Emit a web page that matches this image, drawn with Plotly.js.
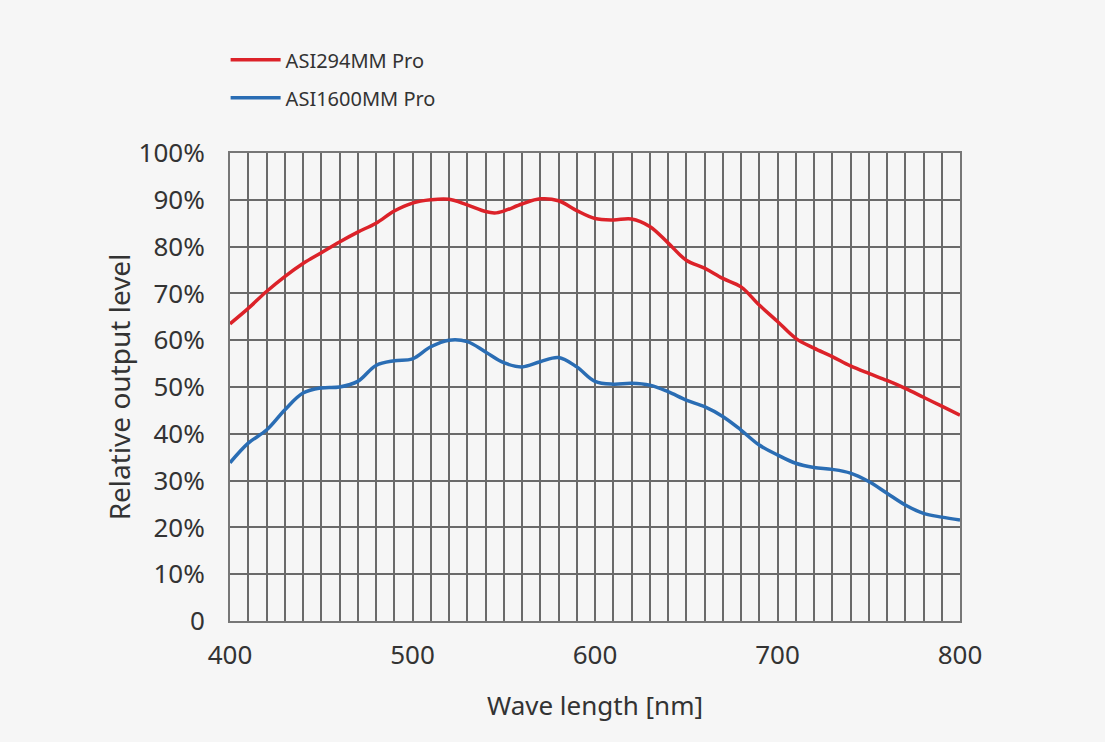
<!DOCTYPE html>
<html>
<head>
<meta charset="utf-8">
<script src="https://cdn.plot.ly/plotly-3.0.1.min.js"></script>
<style>
html,body{margin:0;padding:0;background:#f6f6f6;}
#chart{width:1105px;height:742px;}
</style>
</head>
<body>
<div id="chart"></div>
<script>
const wavelength = [400,410,420,430,440,450,460,470,480,490,500,510,520,530,540,545,550,560,570,580,590,600,610,620,630,640,650,660,670,680,690,700,710,720,730,740,750,760,770,780,790,800];
const asi294 = [63.5,66.8,70.4,73.6,76.4,78.7,81.0,83.1,85.0,87.6,89.3,90.0,90.1,88.9,87.5,87.2,87.6,89.1,90.2,89.8,87.7,86.0,85.7,85.9,84.3,80.8,77.1,75.4,73.2,71.4,67.5,64.0,60.4,58.3,56.5,54.5,52.9,51.4,49.7,47.8,45.9,44.0];
const wavelength2 = [400,410,420,430,440,450,460,470,480,490,500,510,520,530,540,550,560,570,580,590,600,610,620,630,640,650,660,670,680,690,700,710,720,730,740,750,760,770,780,790,800];
const asi1600 = [33.8,38.0,40.8,45.1,48.7,49.8,50.0,51.2,54.6,55.6,56.0,58.6,60.0,59.7,57.5,55.2,54.3,55.4,56.3,54.3,51.2,50.6,50.8,50.4,49.0,47.2,45.8,43.7,40.8,37.6,35.5,33.7,32.8,32.4,31.6,29.8,27.3,24.8,23.0,22.2,21.6];
const seriesNames = ['ASI294MM Pro','ASI1600MM Pro'];
const yTicks = [0,10,20,30,40,50,60,70,80,90,100];
const yTickText = ['0','10%','20%','30%','40%','50%','60%','70%','80%','90%','100%'];
const xTicks = [400,500,600,700,800];

const font = 'Noto Sans, Open Sans, sans-serif';
const gridColor = '#6a6a6a';

const traces = [
  {x: wavelength, y: asi294, name: seriesNames[0], mode: 'lines', legendgroup: 'g0',
   line: {color: '#dc2229', width: 3.5, shape: 'spline', smoothing: 1}},
  {x: wavelength2, y: asi1600, name: seriesNames[1], mode: 'lines', legendgroup: 'g1',
   line: {color: '#2a6db4', width: 3.5, shape: 'spline', smoothing: 1}}
];

const layout = {
  width: 1105, height: 742,
  paper_bgcolor: '#f6f6f6', plot_bgcolor: '#f6f6f6',
  margin: {l: 230, r: 145, t: 153, b: 121},
  font: {family: font, color: '#333'},
  showlegend: true,
  legend: {x: -0.006, y: 1.241, xanchor: 'left', yanchor: 'top',
           bgcolor: 'rgba(0,0,0,0)', font: {size: 20, color: '#333', family: font},
           tracegroupgap: 9, itemwidth: 50},
  xaxis: {range: [400, 800], tickvals: xTicks, ticks: '', showgrid: true,
          gridcolor: gridColor, gridwidth: 2,
          minor: {dtick: 10, tick0: 400, showgrid: true, gridcolor: gridColor, gridwidth: 2},
          showline: true, linecolor: '#777', linewidth: 2, mirror: true,
          zeroline: false, tickfont: {size: 26, color: '#333'}, ticklabelstandoff: 10,
          title: {text: 'Wave length [nm]', font: {size: 26, color: '#333'}, standoff: 26}},
  yaxis: {range: [0, 100], tickvals: yTicks, ticktext: yTickText, ticks: '',
          showgrid: true, gridcolor: gridColor, gridwidth: 2,
          showline: true, linecolor: '#777', linewidth: 2, mirror: true,
          zeroline: false, tickfont: {size: 26, color: '#333'}, ticklabelstandoff: 18,
          title: {text: 'Relative output level', font: {size: 28, color: '#333'}, standoff: 0}}
};

Plotly.newPlot('chart', traces, layout, {displayModeBar: false, staticPlot: true});
</script>
</body>
</html>
